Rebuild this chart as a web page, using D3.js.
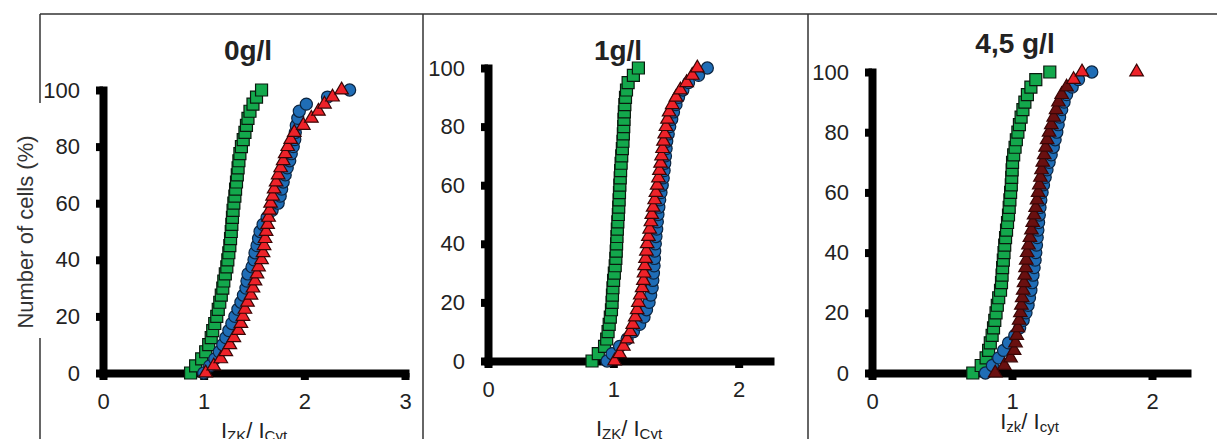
<!DOCTYPE html>
<html>
<head>
<meta charset="utf-8">
<script src="https://cdn.jsdelivr.net/npm/d3@7"></script>
<style>
    body { margin: 0; background: #fff; }
    svg { display: block; font-family: "Liberation Sans", Arial, sans-serif; }
    .tick text { font-size: 22px; fill: #222; }
</style>
</head>
<body>
<div id="chart"></div>
<script>
// cumulative percentage levels shared by every series
var pctLevels = [0, 2.5, 5, 7.5, 10, 12.5, 15, 17.5, 20, 22.5, 25, 27.5, 30, 32.5, 35, 37.5, 40,
    42.5, 45, 47.5, 50, 52.5, 55, 57.5, 60, 62.5, 65, 67.5, 70, 72.5, 75, 77.5, 80, 82.5, 85,
    87.5, 90, 92.5, 95, 97.5, 100];

var panelTitles = ['0g/l', '1g/l', '4,5 g/l'];
var xTicks = [[0, 1, 2, 3], [0, 1, 2], [0, 1, 2]];
var xMax = [3, 2.25, 2.25];
var yTicks = [0, 20, 40, 60, 80, 100];
var yTitle = 'Number of cells (%)';
var xLabels = [['I', 'ZK', '/ I', 'Cyt'], ['I', 'ZK', '/ I', 'Cyt'], ['I', 'zk', '/ I', 'cyt']];

// Izk/Icyt value reached at each level of pctLevels
var green0 = [0.87, 0.92, 0.98, 1.02, 1.05, 1.075, 1.09, 1.11, 1.13, 1.145, 1.16, 1.175, 1.19, 1.20,
    1.215, 1.23, 1.24, 1.25, 1.26, 1.267, 1.274, 1.28, 1.286, 1.292, 1.30, 1.31, 1.317, 1.326, 1.334,
    1.342, 1.35, 1.36, 1.375, 1.393, 1.41, 1.425, 1.44, 1.46, 1.49, 1.525, 1.575];
var blue0 = [1.00, 1.06, 1.11, 1.155, 1.19, 1.22, 1.25, 1.28, 1.31, 1.34, 1.37, 1.395, 1.42, 1.43,
    1.44, 1.48, 1.50, 1.51, 1.53, 1.545, 1.56, 1.59, 1.63, 1.68, 1.74, 1.76, 1.775, 1.79, 1.81, 1.83,
    1.855, 1.87, 1.89, 1.905, 1.91, 1.92, 1.935, 1.95, 2.02, 2.23, 2.45];
var red0 = [1.02, 1.10, 1.17, 1.22, 1.26, 1.30, 1.345, 1.37, 1.39, 1.41, 1.435, 1.47, 1.49, 1.51,
    1.53, 1.545, 1.575, 1.59, 1.60, 1.61, 1.62, 1.635, 1.645, 1.655, 1.665, 1.685, 1.70, 1.72, 1.74,
    1.765, 1.79, 1.81, 1.835, 1.865, 1.90, 1.99, 2.07, 2.14, 2.20, 2.28, 2.37];

var green1 = [0.83, 0.88, 0.93, 0.947, 0.958, 0.967, 0.976, 0.985, 0.99, 0.993, 0.997, 1.002, 1.008,
    1.015, 1.02, 1.023, 1.026, 1.029, 1.032, 1.036, 1.04, 1.043, 1.046, 1.049, 1.052, 1.055, 1.058,
    1.062, 1.067, 1.072, 1.077, 1.080, 1.083, 1.085, 1.088, 1.092, 1.097, 1.105, 1.118, 1.16, 1.20];
var blue1 = [0.95, 0.99, 1.05, 1.11, 1.16, 1.21, 1.245, 1.265, 1.285, 1.298, 1.31, 1.315, 1.32,
    1.325, 1.328, 1.33, 1.335, 1.34, 1.346, 1.351, 1.356, 1.363, 1.37, 1.38, 1.39, 1.398, 1.405, 1.41,
    1.416, 1.421, 1.426, 1.438, 1.45, 1.466, 1.48, 1.50, 1.52, 1.555, 1.60, 1.68, 1.75];
var red1 = [1.01, 1.05, 1.08, 1.11, 1.135, 1.155, 1.175, 1.19, 1.20, 1.215, 1.23, 1.24, 1.245, 1.25,
    1.257, 1.264, 1.27, 1.28, 1.29, 1.30, 1.307, 1.318, 1.33, 1.34, 1.35, 1.36, 1.368, 1.377, 1.385,
    1.393, 1.40, 1.41, 1.42, 1.432, 1.445, 1.47, 1.50, 1.535, 1.585, 1.63, 1.67];

var green45 = [0.72, 0.78, 0.815, 0.833, 0.845, 0.858, 0.868, 0.877, 0.886, 0.895, 0.905, 0.918,
    0.925, 0.929, 0.933, 0.938, 0.943, 0.948, 0.954, 0.961, 0.968, 0.975, 0.98, 0.985, 0.99, 0.995,
    0.998, 1.001, 1.004, 1.012, 1.022, 1.031, 1.042, 1.053, 1.065, 1.078, 1.092, 1.11, 1.135, 1.17, 1.27];
var blue45 = [0.81, 0.86, 0.905, 0.94, 0.975, 1.02, 1.055, 1.08, 1.10, 1.115, 1.125, 1.135, 1.143,
    1.15, 1.158, 1.165, 1.17, 1.175, 1.18, 1.185, 1.19, 1.195, 1.20, 1.206, 1.215, 1.225, 1.237, 1.25,
    1.265, 1.28, 1.295, 1.308, 1.32, 1.33, 1.34, 1.355, 1.372, 1.39, 1.43, 1.475, 1.57];
var red45 = [0.88, 0.945, 0.99, 1.015, 1.025, 1.034, 1.042, 1.051, 1.06, 1.067, 1.073, 1.08, 1.086,
    1.091, 1.097, 1.102, 1.108, 1.118, 1.128, 1.139, 1.148, 1.158, 1.169, 1.179, 1.187, 1.195, 1.203,
    1.211, 1.22, 1.23, 1.24, 1.251, 1.265, 1.281, 1.298, 1.315, 1.332, 1.355, 1.39, 1.44, 1.50];
var red45Outlier = [[1.89, 100]];

var config = {
    w: 1217,
    h: 439,
    green: '#13a84c',
    blue: '#1f6db6',
    red: '#ee2229',
    maroon: '#6a1010',
    axisW: 8,
    // pixel frame of each panel's plot area
    panels: [
        { left: 103, right: 405, top: 90, bottom: 373, titleX: 248, titleY: 60, labelY: 438 },
        { left: 488, right: 770, top: 68, bottom: 361, titleX: 618, titleY: 60, labelY: 436 },
        { left: 872, right: 1187, top: 72, bottom: 373, titleX: 1015, titleY: 53, labelY: 429 }
    ]
};

var seriesByPanel = [
    [green0, blue0, red0],
    [green1, blue1, red1],
    [green45, blue45, red45]
];

var svg = d3.select('#chart').append('svg')
    .attr('width', config.w)
    .attr('height', config.h);

// frame lines of the figure
var frame = svg.append('g').attr('stroke', '#333').attr('stroke-width', 1.5);
frame.append('line').attr('x1', 40).attr('x2', config.w).attr('y1', 14).attr('y2', 14);
frame.append('line').attr('x1', 40).attr('x2', 40).attr('y1', 14).attr('y2', 103);
frame.append('line').attr('x1', 40).attr('x2', 40).attr('y1', 338).attr('y2', config.h);
frame.append('line').attr('x1', 423).attr('x2', 423).attr('y1', 14).attr('y2', config.h);
frame.append('line').attr('x1', 808).attr('x2', 808).attr('y1', 14).attr('y2', config.h);

svg.append('text')
    .attr('transform', 'translate(33,232) rotate(-90)')
    .attr('text-anchor', 'middle')
    .attr('font-size', 22)
    .attr('fill', '#333')
    .text(yTitle);

var square = d3.symbol().type(d3.symbolSquare).size(144)();
var circle = d3.symbol().type(d3.symbolCircle).size(115)();
var triangle = d3.symbol().type(d3.symbolTriangle).size(80)();

config.panels.forEach(function(p, i) {
    var x = d3.scaleLinear().domain([0, xMax[i]]).range([p.left, p.right]);
    var y = d3.scaleLinear().domain([0, 100]).range([p.bottom, p.top]);
    var g = svg.append('g');

    var gy = g.append('g')
        .attr('transform', 'translate(' + p.left + ',0)')
        .call(d3.axisLeft(y).tickValues(yTicks).tickFormat(d3.format('d'))
            .tickSize(7).tickSizeOuter(0).tickPadding(16));
    var gx = g.append('g')
        .attr('transform', 'translate(0,' + p.bottom + ')')
        .call(d3.axisBottom(x).tickValues(xTicks[i]).tickFormat(d3.format('d'))
            .tickSize(7).tickSizeOuter(0).tickPadding(13));

    [gx, gy].forEach(function(ax) {
        ax.select('.domain')
            .style('stroke', '#000')
            .style('stroke-width', config.axisW + 'px')
            .style('stroke-linecap', 'square');
        ax.selectAll('.tick line')
            .style('stroke', '#000')
            .style('stroke-width', config.axisW + 'px');
    });

    g.append('text')
        .attr('x', p.titleX)
        .attr('y', p.titleY)
        .attr('text-anchor', 'middle')
        .attr('font-size', 28)
        .attr('font-weight', 'bold')
        .attr('fill', '#222')
        .text(panelTitles[i]);

    // axis label I_zk / I_cyt with subscripts
    var lab = xLabels[i];
    var t = g.append('text')
        .attr('x', (p.left + p.right) / 2)
        .attr('y', p.labelY)
        .attr('text-anchor', 'middle')
        .attr('fill', '#222')
        .attr('font-size', 22);
    t.append('tspan').text(lab[0]);
    t.append('tspan').attr('font-size', 15).attr('dy', 3).text(lab[1]);
    t.append('tspan').attr('dy', -3).text(lab[2]);
    t.append('tspan').attr('font-size', 15).attr('dy', 3).text(lab[3]);

    var s = seriesByPanel[i];
    var pts = function(xs) { return d3.zip(xs, pctLevels); };

    g.append('g').selectAll('path').data(pts(s[0])).join('path')
        .attr('d', square)
        .attr('transform', function(d) { return 'translate(' + x(d[0]) + ',' + y(d[1]) + ')'; })
        .attr('fill', config.green)
        .attr('stroke', '#0a1a0e')
        .attr('stroke-width', 1.2);

    g.append('g').selectAll('path').data(pts(s[1])).join('path')
        .attr('d', circle)
        .attr('transform', function(d) { return 'translate(' + x(d[0]) + ',' + y(d[1]) + ')'; })
        .attr('fill', config.blue)
        .attr('stroke', '#0b2440')
        .attr('stroke-width', 1.2);

    var redPts = pts(s[2]);
    if (i === 2) redPts = redPts.concat(red45Outlier);
    g.append('g').selectAll('path').data(redPts).join('path')
        .attr('d', triangle)
        .attr('transform', function(d) { return 'translate(' + x(d[0]) + ',' + y(d[1]) + ')'; })
        .attr('fill', function(d) {
            // the dense stack in the last panel reads as dark maroon
            if (i === 2 && d[1] < 97.5) return config.maroon;
            return config.red;
        })
        .attr('stroke', '#3a0606')
        .attr('stroke-width', 1.2);
});
</script>
</body>
</html>
